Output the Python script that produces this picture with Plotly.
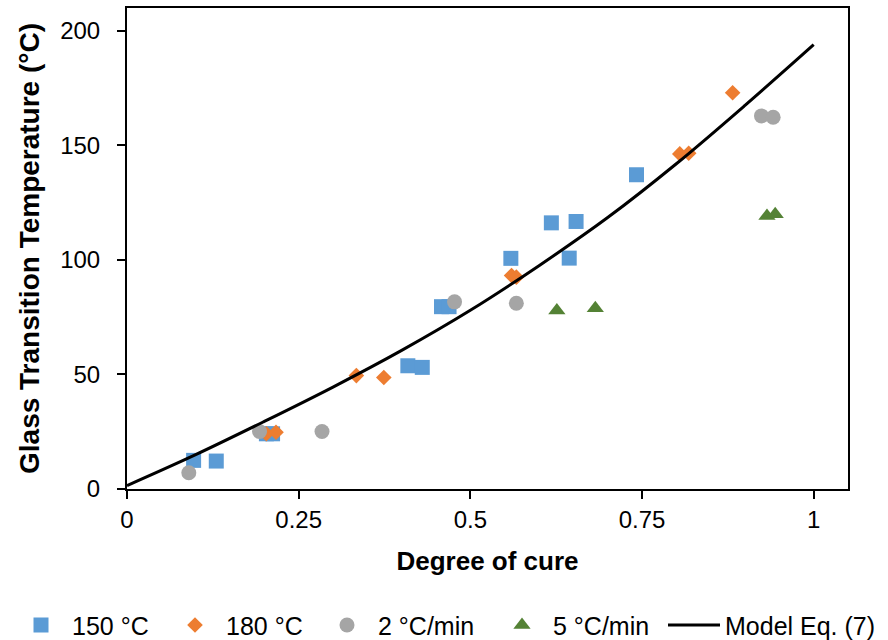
import plotly.graph_objects as go

# Data
alpha_150 = [0.097, 0.130, 0.203, 0.212, 0.409, 0.430, 0.458, 0.469, 0.559, 0.618, 0.644, 0.654, 0.742]
tg_150 = [12.5, 12.2, 24.1, 24.1, 53.8, 53.1, 79.6, 79.6, 100.7, 116.2, 100.8, 116.8, 137.2]

alpha_180 = [0.203, 0.217, 0.334, 0.374, 0.560, 0.567, 0.805, 0.818, 0.882]
tg_180 = [24.1, 24.8, 49.5, 48.7, 93.2, 92.5, 146.3, 146.6, 173.0]

alpha_2 = [0.090, 0.193, 0.284, 0.477, 0.567, 0.924, 0.941]
tg_2 = [7.1, 25.1, 25.1, 81.7, 81.1, 162.9, 162.3]

alpha_5 = [0.626, 0.682, 0.932, 0.944]
tg_5 = [77.9, 78.9, 119.2, 119.9]

model_alpha = [0.0, 0.1, 0.2, 0.3, 0.4, 0.5, 0.6, 0.7, 0.8, 0.9, 1.0]
model_tg = [1.5, 15.0, 29.5, 44.5, 60.5, 78.0, 97.5, 118.5, 142.0, 167.5, 194.0]

x_ticks = [0, 0.25, 0.5, 0.75, 1]
x_tick_labels = ["0", "0.25", "0.5", "0.75", "1"]
y_ticks = [0, 50, 100, 150, 200]
y_tick_labels = ["0", "50", "100", "150", "200"]

FONT = "Liberation Sans, Arial, sans-serif"

fig = go.Figure()
fig.add_trace(go.Scatter(x=alpha_150, y=tg_150, mode="markers", name="150 °C",
                         marker=dict(symbol="square", size=15, color="#5B9BD5"),
                         legend="legend", showlegend=True))
fig.add_trace(go.Scatter(x=alpha_180, y=tg_180, mode="markers", name="180 °C",
                         marker=dict(symbol="diamond", size=12, color="#ED7D31"),
                         legend="legend2", showlegend=True))
fig.add_trace(go.Scatter(x=alpha_2, y=tg_2, mode="markers", name="2 °C/min",
                         marker=dict(symbol="circle", size=15, color="#A5A5A5"),
                         legend="legend3", showlegend=True))
fig.add_trace(go.Scatter(x=alpha_5, y=tg_5, mode="markers", name="5 °C/min",
                         marker=dict(symbol="triangle-up", size=15, color="#548235"),
                         legend="legend4", showlegend=True))
fig.add_trace(go.Scatter(x=model_alpha, y=model_tg, mode="lines", name="Model Eq. (7)",
                         line=dict(color="black", width=3, shape="spline"),
                         legend="legend5", showlegend=True))

axis_common = dict(showline=True, linecolor="black", linewidth=2, mirror=True,
                   ticks="outside", ticklen=8, tickwidth=1.5, tickcolor="black",
                   showgrid=False, zeroline=False,
                   tickfont=dict(family=FONT, size=24, color="black"))

fig.update_xaxes(range=[0, 1.05], tickvals=x_ticks, ticktext=x_tick_labels,
                 title=dict(text="<b>Degree of cure</b>", standoff=20,
                            font=dict(family=FONT, size=26, color="black")),
                 **axis_common)
fig.update_yaxes(range=[0, 210], tickvals=y_ticks, ticktext=y_tick_labels,
                 title=dict(text="<b>Glass Transition Temperature (°C)</b>", standoff=12,
                            font=dict(family=FONT, size=28, color="black")),
                 ticklabelstandoff=12,
                 **axis_common)


def leg(px_left):
    return dict(visible=True, orientation="h", xref="container", yref="container",
                x=px_left / 888, xanchor="left", y=0.023, yanchor="middle",
                itemwidth=52, font=dict(family=FONT, size=25, color="black"),
                bgcolor="rgba(0,0,0,0)")


fig.update_layout(
    width=888, height=640,
    margin=dict(l=127, r=40, t=6, b=151),
    paper_bgcolor="white", plot_bgcolor="white",
    font=dict(family=FONT, color="black"),
    showlegend=True,
    legend=leg(10),
    legend2=leg(164),
    legend3=leg(316),
    legend4=leg(491),
    legend5=leg(663),
)

fig.write_html("out.html")
